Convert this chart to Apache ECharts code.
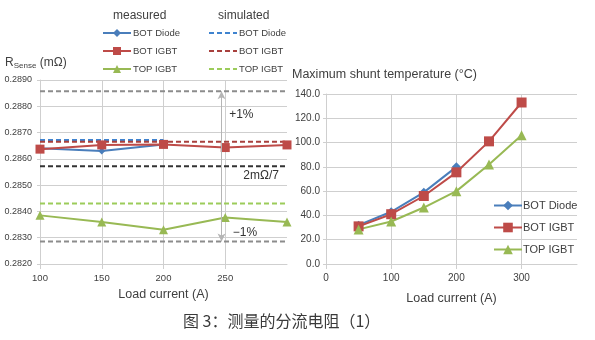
<!DOCTYPE html>
<html>
<head>
<meta charset="utf-8">
<script src="https://cdn.jsdelivr.net/npm/echarts@6/dist/echarts.min.js"></script>
<style>
  html, body { margin: 0; padding: 0; background: #fff; }
  #chart { width: 595px; height: 340px; }
</style>
</head>
<body>
<div id="chart"></div>
<script>
// Shunt resistance vs. load current (measured)
const rLoad = [100, 150, 200, 250, 300];
const rBotDiode = [0.2864, 0.2863, 0.28655];
const rBotIgbt = [0.28637, 0.28653, 0.28655, 0.28643, 0.28653];
const rTopIgbt = [0.28385, 0.2836, 0.2833, 0.28377, 0.2836];

// Shunt resistance (simulated), constant over current
const simBotDiode = 0.28672;
const simBotIgbt = 0.28665;
const simTopIgbt = 0.2843;
const simDiodeRange = [100, 200];

// Nominal value 2 mΩ / 7 with ±1 % band
const rNominal = 2 / 7;
const rPlus = rNominal * 1.01;
const rMinus = rNominal * 0.99;

// Maximum shunt temperature vs. load current
const tLoad = [50, 100, 150, 200, 250, 300];
const tBotDiode = [32, 43, 59, 80];
const tBotIgbt = [31, 41, 56, 75.5, 101, 133];
const tTopIgbt = [28.5, 35, 46.5, 60, 82, 106];

const rTicks = { min: 0.282, max: 0.289, step: 0.001 };
const tTicks = { min: 0, max: 140, step: 20 };

const C_BLUE = '#4a7ebb', C_RED = '#be4b48', C_GREEN = '#98b954';
const C_BLUE_D = '#3f83cf', C_RED_D = '#a8403d', C_GREEN_D = '#9ccc5a';
const FONT = 'Liberation Sans, Arial, sans-serif';
const TXT = '#404040';
const GRID = '#cfcfcf';

const pairs = (xs, ys) => ys.map((y, i) => [xs[i], y]);
const flat = (x0, x1, v) => [[x0, v], [x1, v]];

const chart = echarts.init(document.getElementById('chart'), null, { renderer: 'canvas' });

const measured = (name, data, color, symbol, size, xi) => ({
  name, type: 'line', xAxisIndex: xi, yAxisIndex: xi, data,
  symbol, symbolSize: size, showSymbol: true,
  lineStyle: { color, width: 2 }, itemStyle: { color },
  animation: false, z: 3
});
const dashed = (name, data, color, z) => ({
  name, type: 'line', xAxisIndex: 0, yAxisIndex: 0, data,
  symbol: 'none', lineStyle: { color, width: 2, type: [5, 3] },
  itemStyle: { color }, animation: false, z: z || 2
});

const option = {
  backgroundColor: '#fff',
  textStyle: { fontFamily: FONT },
  grid: [
    { left: 40, top: 80, width: 247, height: 184 },
    { left: 326, top: 94, width: 251, height: 170 }
  ],
  xAxis: [
    {
      gridIndex: 0, type: 'value', min: 100, max: 300, interval: 50,
      axisLine: { show: true, lineStyle: { color: GRID } },
      axisTick: { show: true, length: 5, lineStyle: { color: GRID } },
      axisLabel: { color: TXT, fontSize: 9.5, margin: 9, showMaxLabel: false },
      splitLine: { show: true, showMaxLine: false, lineStyle: { color: GRID } },
      name: 'Load current (A)', nameLocation: 'middle', nameGap: 24,
      nameTextStyle: { color: TXT, fontSize: 12.5 }
    },
    {
      gridIndex: 1, type: 'value', min: 0, max: 385, interval: 100,
      axisLine: { show: true, lineStyle: { color: GRID } },
      axisTick: { show: true, length: 5, lineStyle: { color: GRID } },
      axisLabel: { color: TXT, fontSize: 10, margin: 9, showMaxLabel: false },
      splitLine: { show: true, showMaxLine: false, lineStyle: { color: GRID } },
      name: 'Load current (A)', nameLocation: 'middle', nameGap: 28,
      nameTextStyle: { color: TXT, fontSize: 12.5 }
    }
  ],
  yAxis: [
    {
      gridIndex: 0, type: 'value', min: rTicks.min, max: rTicks.max, interval: rTicks.step,
      axisLine: { show: true, lineStyle: { color: GRID } },
      axisTick: { show: true, length: 3, lineStyle: { color: GRID } },
      axisLabel: { color: TXT, fontSize: 9, margin: 8, formatter: v => v.toFixed(4) },
      splitLine: { show: true, lineStyle: { color: GRID } }
    },
    {
      gridIndex: 1, type: 'value', min: tTicks.min, max: tTicks.max, interval: tTicks.step,
      axisLine: { show: true, lineStyle: { color: GRID } },
      axisTick: { show: true, length: 3, lineStyle: { color: GRID } },
      axisLabel: { color: TXT, fontSize: 10, margin: 6, formatter: v => v.toFixed(1) },
      splitLine: { show: true, lineStyle: { color: GRID } }
    }
  ],
  legend: [
    {
      orient: 'vertical', left: 97, top: 23, itemGap: 8, itemWidth: 28, itemHeight: 10,
      data: ['BOT Diode', 'BOT IGBT', 'TOP IGBT'],
      textStyle: { color: TXT, fontSize: 9.5, padding: [0, 0, 0, -3] },
      selectedMode: false
    },
    {
      orient: 'vertical', left: 203, top: 23, itemGap: 8, itemWidth: 28, itemHeight: 10,
      data: ['BOT Diode sim', 'BOT IGBT sim', 'TOP IGBT sim'],
      formatter: n => n.replace(' sim', ''),
      itemStyle: { opacity: 0 },
      textStyle: { color: TXT, fontSize: 9.5, padding: [0, 0, 0, -3] },
      selectedMode: false
    },
    {
      orient: 'vertical', left: 488, top: 195, itemGap: 11, itemWidth: 28, itemHeight: 12,
      data: ['BOT Diode', 'BOT IGBT', 'TOP IGBT'],
      textStyle: { color: TXT, fontSize: 11, padding: [0, 0, 0, -4] },
      selectedMode: false
    }
  ],
  graphic: [
    { type: 'text', left: 113, top: 10, style: { text: 'measured', font: '12px ' + FONT, fill: TXT } },
    { type: 'text', left: 218, top: 10, style: { text: 'simulated', font: '12px ' + FONT, fill: TXT } },
    {
      type: 'text', left: 5, top: 57,
      style: {
        text: '{a|R}{b|Sense}{a| (mΩ)}',
        rich: {
          a: { fontSize: 12, fontFamily: FONT, fill: TXT, color: TXT },
          b: { fontSize: 8, fontFamily: FONT, fill: TXT, color: TXT, padding: [5, 0, 0, 0] }
        }
      }
    },
    { type: 'text', left: 292, top: 68, style: { text: 'Maximum shunt temperature (°C)', font: '12.5px ' + FONT, fill: TXT } },
    {
      type: 'text', left: 183, top: 313,
      style: { text: '图 3：测量的分流电阻（1）', font: '16px "Noto Sans CJK SC", sans-serif', fill: '#3a3a3a' }
    }
  ],
  series: [
    // reference band lines
    dashed('+1%', flat(100, 300, rPlus), '#8c8c8c', 1),
    dashed('-1%', flat(100, 300, rMinus), '#8c8c8c', 1),
    Object.assign(dashed('2mΩ/7', flat(100, 300, rNominal), '#333333', 1), {
      markLine: {
        silent: true, symbol: ['none', 'arrow'], symbolSize: [6, 8],
        lineStyle: { color: '#b5b5b5', width: 1, type: 'solid' },
        label: { show: false },
        data: [
          [{ coord: [247, rNominal] }, { coord: [247, rPlus] }],
          [{ coord: [247, rNominal] }, { coord: [247, rMinus] }]
        ]
      },
      markPoint: {
        silent: true, symbol: 'circle', symbolSize: 0,
        label: { show: true, color: '#333', fontSize: 12, fontFamily: FONT },
        data: [
          { coord: [263, 0.28767], value: '+1%', label: { formatter: '+1%' } },
          { coord: [279, 0.28535], value: '2mΩ/7', label: { formatter: '2mΩ/7' } },
          { coord: [266, 0.28319], value: '−1%', label: { formatter: '−1%' } }
        ]
      }
    }),
    dashed('BOT Diode sim', flat(simDiodeRange[0], simDiodeRange[1], simBotDiode), C_BLUE_D),
    dashed('BOT IGBT sim', flat(100, 300, simBotIgbt), C_RED_D),
    dashed('TOP IGBT sim', flat(100, 300, simTopIgbt), C_GREEN_D),
    // measured resistance
    measured('BOT Diode', pairs(rLoad, rBotDiode), C_BLUE, 'diamond', 7, 0),
    measured('BOT IGBT', pairs(rLoad, rBotIgbt), C_RED, 'rect', 9, 0),
    measured('TOP IGBT', pairs(rLoad, rTopIgbt), C_GREEN, 'triangle', 9, 0),
    // temperature
    measured('BOT Diode', pairs(tLoad, tBotDiode), C_BLUE, 'diamond', 9, 1),
    measured('BOT IGBT', pairs(tLoad, tBotIgbt), C_RED, 'rect', 10, 1),
    measured('TOP IGBT', pairs(tLoad, tTopIgbt), C_GREEN, 'triangle', 10, 1)
  ]
};

chart.setOption(option);
</script>
</body>
</html>
